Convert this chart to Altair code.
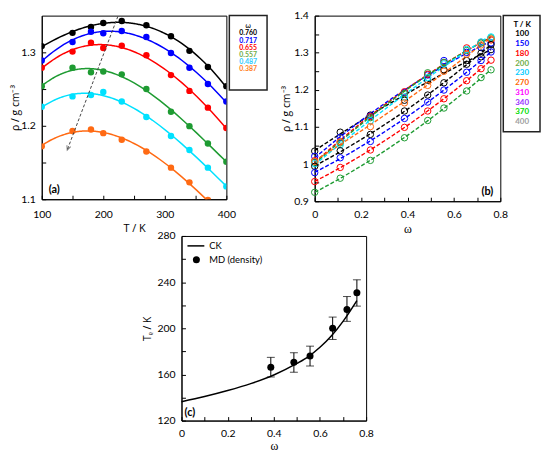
import altair as alt
import pandas as pd

# ---------------- panel (a): rho(T) for several omega ----------------
T_vals = [100, 150, 180, 200, 230, 270, 310, 340, 370, 400]
omega_a = ["0.760", "0.717", "0.655", "0.557", "0.487", "0.387"]
rho_0760 = [1.3085, 1.3265, 1.3345, 1.340, 1.3426, 1.337, 1.322, 1.302, 1.280, 1.254]
rho_0717 = [1.289, 1.314, 1.328, 1.326, 1.329, 1.321, 1.299, 1.279, 1.257, 1.233]
rho_0655 = [1.279, 1.301, 1.313, 1.306, 1.309, 1.296, 1.269, 1.2475, 1.2247, 1.197]
rho_0557 = [1.254, 1.279, 1.273, 1.274, 1.270, 1.250, 1.219, 1.1995, 1.176, 1.151]
rho_0487 = [1.226, 1.240, 1.242, 1.246, 1.233, 1.212, 1.186, 1.167, 1.143, 1.1175]
rho_0387 = [1.172, 1.193, 1.195, 1.190, 1.181, 1.165, 1.143, 1.123, 1.099, 1.071]
rows_a = [rho_0760, rho_0717, rho_0655, rho_0557, rho_0487, rho_0387]
colors_a_line = ["#000000", "#0000FF", "#FF0000", "#1E9B32", "#00E1FF", "#FF6A13"]
colors_a_text = ["#000000", "#0000FF", "#FF0000", "#70AD47", "#33CCFF", "#FF7F27"]
arrow_T = [223.7, 141.4]
arrow_rho = [1.349, 1.167]

# ---------------- panel (b): rho(omega) for several T ----------------
omega_b = [0.0, 0.11, 0.24, 0.387, 0.487, 0.557, 0.655, 0.717, 0.760]
T_b = ["100", "150", "180", "200", "230", "270", "310", "340", "370", "400"]
rho_w000 = [1.035, 1.021, 1.009, 1.005, 1.001, 1.007, 0.994, 0.977, 0.953, 0.924]
rho_w011 = [1.086, 1.072, 1.060, 1.057, 1.052, 1.060, 1.036, 1.017, 0.991, 0.962]
rho_w024 = [1.132, 1.130, 1.128, 1.125, 1.117, 1.101, 1.080, 1.061, 1.038, 1.010]
rows_b = [rho_w000, rho_w011, rho_w024, rho_0387, rho_0487, rho_0557,
          rho_0655, rho_0717, rho_0760]
colors_b = ["#000000", "#0000FF", "#FF0000", "#70AD47", "#00CCFF",
            "#FF6600", "#FF00FF", "#9933FF", "#00DD00", "#A0A0A0"]

# ---------------- panel (c): T_rho(omega) ----------------
omega_c = [0.387, 0.487, 0.557, 0.655, 0.717, 0.760]
Trho_md = [166.2, 170.5, 175.9, 200.0, 216.3, 230.7]
Trho_lo = [157.8, 161.9, 167.3, 190.3, 206.0, 219.2]
Trho_hi = [174.8, 178.8, 184.5, 209.7, 227.5, 242.0]
ck_omega = [0.0, 0.1, 0.2, 0.3, 0.4, 0.5, 0.55, 0.6, 0.65, 0.7, 0.76]
ck_T = [136.3, 140.8, 146.0, 152.0, 159.5, 169.5, 175.5, 183.5, 193.5, 206.0, 224.0]

# ---------------- tables ----------------
df_a = pd.DataFrame([{"w": w, "T": t, "rho": r}
                     for w, row in zip(omega_a, rows_a) for t, r in zip(T_vals, row)])
df_b = pd.DataFrame([{"omega": om, "T": tl, "rho": r}
                     for om, row in zip(omega_b, rows_b) for tl, r in zip(T_b, row)])
df_arrow = pd.DataFrame({"T": [arrow_T[0]], "rho": [arrow_rho[0]],
                         "T2": [arrow_T[1]], "rho2": [arrow_rho[1]]})
df_head = pd.DataFrame({"T": [arrow_T[1]], "rho": [arrow_rho[1]]})
df_c = pd.DataFrame({"omega": omega_c, "T": Trho_md, "lo": Trho_lo, "hi": Trho_hi})
df_ck = pd.DataFrame({"omega": ck_omega, "T": ck_T})
dummy = pd.DataFrame({"k": [0]})

LAB_FONT = "Lato"


def axis(values, expr, title, label_pad, title_pad, title_font="Open Sans", title_size=11):
    return alt.Axis(values=values, labelExpr=expr, title=title, grid=False,
                    tickSize={"expr": "-4"}, tickColor="black", tickWidth=1,
                    domainColor="black", domainWidth=1,
                    labelFont=LAB_FONT, labelFontSize=10.5, labelColor="black",
                    labelPadding=label_pad, labelOverlap=False, labelFlush=False,
                    titleFont=title_font, titleFontSize=title_size,
                    titleFontWeight="normal", titleColor="black", titlePadding=title_pad)


def txt(x, y, s, **kw):
    return alt.Chart(dummy).mark_text(text=s, **kw).encode(x=alt.value(x), y=alt.value(y))


# ---------------- panel (a) ----------------
W_A, H_A = 186, 185
sx_a = alt.Scale(domain=[100, 400], nice=False, zero=False)
sy_a = alt.Scale(domain=[1.1, 1.35], nice=False, zero=False)
ax_xa = axis([100, 150, 200, 250, 300, 350, 400],
             "datum.value % 100 === 0 ? datum.label : ''", "T / K", 14.5, 3)
ax_ya = axis([1.1, 1.15, 1.2, 1.25, 1.3],
             "abs(datum.value*10 - round(datum.value*10)) < 0.001 ? format(datum.value, '.1f') : ''",
             "ρ / g cm⁻³", 10.5, 0, title_size=10.5)
X_a = alt.X("T:Q", scale=sx_a, axis=ax_xa)
Y_a = alt.Y("rho:Q", scale=sy_a, axis=ax_ya)
C_a = alt.Color("w:N", scale=alt.Scale(domain=omega_a, range=colors_a_line), legend=None)

lines_a = alt.Chart(df_a).transform_regression(
    "T", "rho", groupby=["w"], method="poly", order=3, extent=[100, 400]
).mark_line(clip=True, strokeWidth=1.5).encode(X_a, Y_a, C_a)
pts_a = alt.Chart(df_a).mark_circle(size=42, opacity=1, clip=True).encode(X_a, Y_a, C_a)
arrow = alt.Chart(df_arrow).mark_rule(strokeDash=[3, 2], color="#444444", strokeWidth=1).encode(
    X_a, Y_a, x2="T2:Q", y2="rho2:Q")
head = alt.Chart(df_head).mark_point(shape="M-0.45,1L0,0L0.45,1", angle=200.7, filled=False,
                                     size=80, color="#444444", strokeWidth=1).encode(X_a, Y_a)
leg_a = [alt.Chart(dummy).mark_rect(fill="white", stroke="#222222", strokeWidth=1.5).encode(
    x=alt.value(W_A + 3), x2=alt.value(W_A + 41), y=alt.value(0), y2=alt.value(75)),
    txt(W_A + 22, 10.5, "ω", font="DejaVu Sans", fontSize=7, color="black")]
for i, (w, c) in enumerate(zip(omega_a, colors_a_text)):
    leg_a.append(txt(W_A + 22, 18 + i * 7.2, w, font=LAB_FONT, fontSize=7,
                     fontWeight="bold", color=c))
lab_a = txt(7, 176, "(a)", font=LAB_FONT, fontSize=11, fontWeight="bold", align="left", color="black")

chart_a = alt.layer(lines_a, pts_a, arrow, head, lab_a, *leg_a).properties(width=W_A, height=H_A)

# ---------------- panel (b) ----------------
W_B, H_B = 187, 187
sx_b = alt.Scale(domain=[0, 0.8], nice=False, zero=False)
sy_b = alt.Scale(domain=[0.9, 1.4], nice=False, zero=False)
ax_xb = axis([0, 0.1, 0.2, 0.3, 0.4, 0.5, 0.6, 0.7, 0.8],
             "abs(datum.value*5 - round(datum.value*5)) < 0.001 ? '' + (round(datum.value*10)/10) : ''",
             "ω", 12.5, 4, title_font="Liberation Serif", title_size=12)
ax_yb = axis([0.9, 0.95, 1.0, 1.05, 1.1, 1.15, 1.2, 1.25, 1.3, 1.35, 1.4],
             "abs(datum.value*10 - round(datum.value*10)) < 0.001 ? '' + (round(datum.value*10)/10) : ''",
             "ρ / g cm⁻³", 10.5, 2, title_size=10.5)
X_b = alt.X("omega:Q", scale=sx_b, axis=ax_xb)
Y_b = alt.Y("rho:Q", scale=sy_b, axis=ax_yb)
C_b = alt.Color("T:N", scale=alt.Scale(domain=T_b, range=colors_b), legend=None)

lines_b = alt.Chart(df_b).transform_regression(
    "omega", "rho", groupby=["T"], method="poly", order=2, extent=[0, 0.76]
).mark_line(strokeDash=[4, 2], strokeWidth=1.4).encode(X_b, Y_b, C_b)
pts_b = alt.Chart(df_b).mark_point(shape="circle", filled=False, size=42, strokeWidth=1,
                                   opacity=1).encode(X_b, Y_b, C_b)
leg_b = [alt.Chart(dummy).mark_rect(fill="white", stroke="#222222", strokeWidth=1.5).encode(
    x=alt.value(W_B + 3), x2=alt.value(W_B + 40), y=alt.value(0), y2=alt.value(117)),
    txt(W_B + 22, 9, "T / K", font=LAB_FONT, fontSize=8, fontWeight="bold", color="black")]
for i, (t, c) in enumerate(zip(T_b, colors_b)):
    leg_b.append(txt(W_B + 22, 19 + i * 9.8, t, font=LAB_FONT, fontSize=8,
                     fontWeight="bold", color=c))
lab_b = txt(180, 178, "(b)", font=LAB_FONT, fontSize=11, fontWeight="bold", align="right", color="black")

chart_b = alt.layer(lines_b, pts_b, lab_b, *leg_b).properties(width=W_B, height=H_B)

# ---------------- panel (c) ----------------
W_C, H_C = 186, 186
sx_c = alt.Scale(domain=[0, 0.8], nice=False, zero=False)
sy_c = alt.Scale(domain=[120, 280], nice=False, zero=False)
ax_xc = axis([0, 0.1, 0.2, 0.3, 0.4, 0.5, 0.6, 0.7, 0.8],
             "abs(datum.value*5 - round(datum.value*5)) < 0.001 ? '' + (round(datum.value*10)/10) : ''",
             "ω", 12.5, 1.5, title_font="Liberation Serif", title_size=12)
ax_yc = axis([120, 140, 160, 180, 200, 220, 240, 260, 280],
             "datum.value % 40 === 0 ? datum.label : ''", "Tᵨ / K", 10.5, 4, title_size=10.5)
X_c = alt.X("omega:Q", scale=sx_c, axis=ax_xc)
Y_c = alt.Y("T:Q", scale=sy_c, axis=ax_yc)

ck_line = alt.Chart(df_ck).mark_line(color="black", strokeWidth=1.5, interpolate="monotone").encode(X_c, Y_c)
err = alt.Chart(df_c).mark_rule(color="black", strokeWidth=1).encode(
    X_c, alt.Y("lo:Q", scale=sy_c, axis=ax_yc), y2="hi:Q")
cap_lo = alt.Chart(df_c).mark_tick(orient="horizontal", size=8, thickness=1, color="black").encode(
    X_c, alt.Y("lo:Q", scale=sy_c, axis=ax_yc))
cap_hi = alt.Chart(df_c).mark_tick(orient="horizontal", size=8, thickness=1, color="black").encode(
    X_c, alt.Y("hi:Q", scale=sy_c, axis=ax_yc))
md_pts = alt.Chart(df_c).mark_circle(size=50, color="black", opacity=1).encode(X_c, Y_c)
leg_c = [
    alt.Chart(dummy).mark_rule(color="black", strokeWidth=1.5).encode(
        x=alt.value(6), x2=alt.value(23), y=alt.value(10)),
    alt.Chart(dummy).mark_circle(size=50, color="black", opacity=1).encode(
        x=alt.value(15), y=alt.value(24)),
    txt(28, 10, "CK", font=LAB_FONT, fontSize=9.5, align="left", color="black"),
    txt(28, 24, "MD (density)", font=LAB_FONT, fontSize=9.5, align="left", color="black"),
]
lab_c = txt(3, 178, "(c)", font=LAB_FONT, fontSize=11, fontWeight="bold", align="left", color="black")

chart_c = alt.layer(ck_line, err, cap_lo, cap_hi, md_pts, lab_c, *leg_c).properties(
    width=W_C, height=H_C)

spacer = alt.Chart(dummy).mark_point(opacity=0).encode(
    x=alt.value(0), y=alt.value(0)).properties(
    width=119, height=10, view=alt.ViewBackground(stroke="transparent"))

row1 = alt.hconcat(chart_a, chart_b, spacing=89, bounds="flush")
row2 = alt.hconcat(spacer, chart_c, spacing=21.8, bounds="flush")
chart = alt.vconcat(row1, row2, spacing=-12).properties(
    padding={"left": 2, "top": 0, "right": 0, "bottom": 0}).configure_view(
    stroke="black", strokeWidth=1)

chart.save("out.html", embed_options={"renderer": "svg", "actions": False})
